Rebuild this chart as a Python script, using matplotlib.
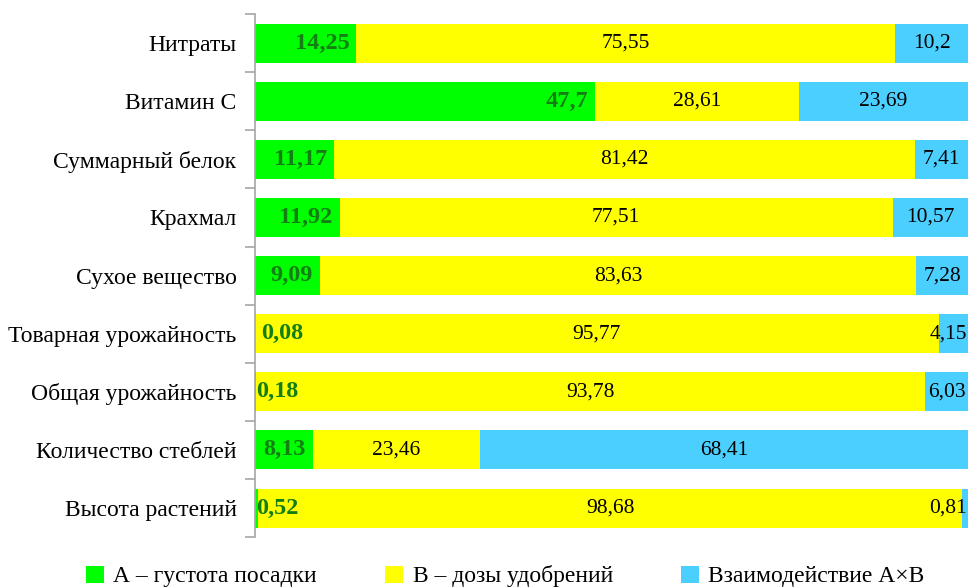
import matplotlib
matplotlib.use("Agg")
import matplotlib.pyplot as plt
import numpy as np
from matplotlib.patches import Patch

plt.rcParams['font.family'] = ['Liberation Serif', 'DejaVu Serif']

categories = ["Нитраты", "Витамин С", "Суммарный белок", "Крахмал", "Сухое вещество",
              "Товарная урожайность", "Общая урожайность", "Количество стеблей", "Высота растений"]
series_a = [14.25, 47.7, 11.17, 11.92, 9.09, 0.08, 0.18, 8.13, 0.52]
series_b = [75.55, 28.61, 81.42, 77.51, 83.63, 95.77, 93.78, 23.46, 98.68]
series_c = [10.2, 23.69, 7.41, 10.57, 7.28, 4.15, 6.03, 68.41, 0.81]
series_names = ["А – густота посадки", "В – дозы удобрений", "Взаимодействие А×В"]
colors = ["#00FF00", "#FFFF00", "#4BCFFF"]

def fmt(v):
    s = f"{v:g}"
    return s.replace(".", ",")

fig = plt.figure(figsize=(9.72, 5.87), dpi=100)
ax = fig.add_axes([0.262, 0.085, 0.734, 0.891])

y = np.arange(len(categories))
a = np.array(series_a); b = np.array(series_b); c = np.array(series_c)
h = 0.67
ax.barh(y, a, height=h, color=colors[0], label=series_names[0])
ax.barh(y, b, left=a, height=h, color=colors[1], label=series_names[1])
ax.barh(y, c, left=a + b, height=h, color=colors[2], label=series_names[2])

ax.set_xlim(0, 100)
ax.set_ylim(len(categories) - 0.5, -0.5)
ax.set_xticks([])
ax.set_yticks(y)
ax.set_yticklabels(categories, fontsize=17)
ax.set_yticks(np.arange(-0.5, len(categories), 1), minor=True)
ax.tick_params(axis='y', which='major', length=0, pad=13)
ax.tick_params(axis='y', which='minor', length=7, color='#A6A6A6', width=1.2)
for s in ['top', 'right', 'bottom']:
    ax.spines[s].set_visible(False)
ax.spines['left'].set_color('#A6A6A6')
ax.spines['left'].set_linewidth(1.2)

fig.canvas.draw()
renderer = fig.canvas.get_renderer()
axbox = ax.get_window_extent(renderer)

p0 = ax.transData.transform((0, 0))
p1 = ax.transData.transform((1, 0))
ppu = p1[0] - p0[0]

# A labels: inside end, clamped to left of plot
for i in range(len(categories)):
    t = ax.text(a[i] - 7 / ppu, y[i], fmt(a[i]), ha='right', va='center',
                fontsize=17.5, fontweight='bold', color='#137F13')
    bb = t.get_window_extent(renderer)
    if bb.x0 < axbox.x0 + 1:
        t.set_ha('left')
        t.set_x((1 + (5 if a[i] < 0.1 else 0)) / ppu)

# B labels centred
for i in range(len(categories)):
    ax.text(a[i] + b[i] / 2, y[i], fmt(b[i]), ha='center', va='center',
            fontsize=15.5, color='black')

# C labels centred, clamped to the right edge
for i in range(len(categories)):
    t = ax.text(a[i] + b[i] + c[i] / 2, y[i], fmt(c[i]), ha='center', va='center',
                fontsize=15.5, color='black')
    bb = t.get_window_extent(renderer)
    if bb.x1 > axbox.x1 - 1:
        t.set_ha('right')
        t.set_x(100 - 1 / ppu)

handles = [Patch(facecolor=col, edgecolor='none') for col in colors]
fig.legend(handles, series_names, loc='center', bbox_to_anchor=(0.52, 0.018),
           ncol=3, frameon=False, fontsize=17, handlelength=0.75, handleheight=0.75,
           handletextpad=0.4, columnspacing=2.9)

fig.savefig("out.png", dpi=100)
